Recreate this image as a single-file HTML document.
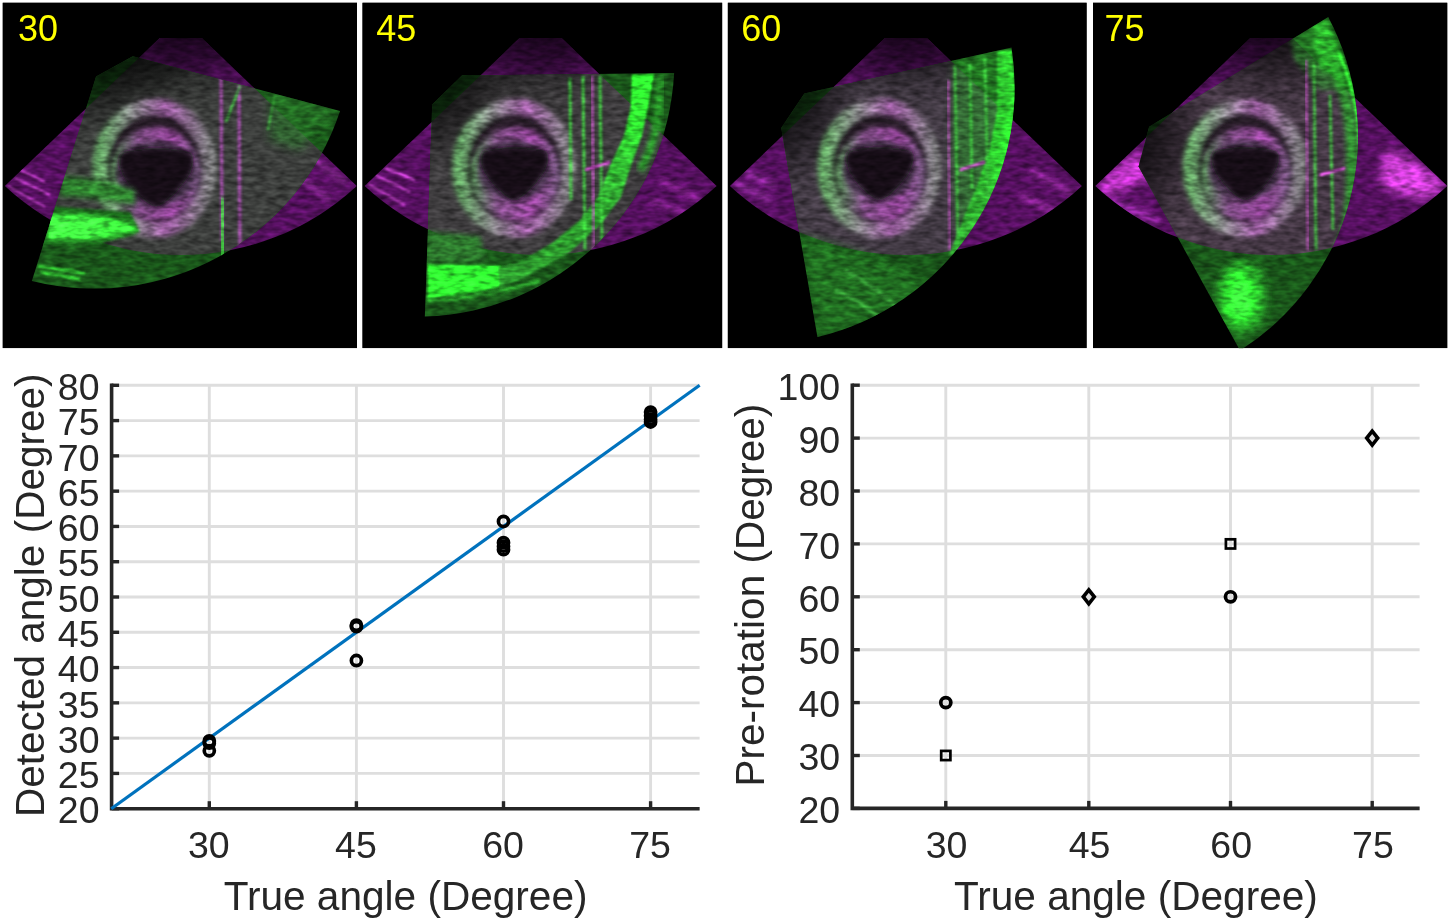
<!DOCTYPE html>
<html><head><meta charset="utf-8"><style>
html,body{margin:0;padding:0;background:#fff;}
body{width:1450px;height:921px;overflow:hidden;font-family:"Liberation Sans", sans-serif;}
svg{display:block;will-change:transform;}
</style></head><body>
<svg width="1450" height="921" viewBox="0 0 1450 921">
<defs><path id="fan" d="M -21,0 L 21,0 L 176,148 A 259 259 0 0 1 -176,148 Z"/><filter id="b1" x="-20%" y="-20%" width="140%" height="140%"><feGaussianBlur stdDeviation="1.2"/></filter><filter id="b2" x="-20%" y="-20%" width="140%" height="140%"><feGaussianBlur stdDeviation="2.5"/></filter><filter id="b4" x="-30%" y="-30%" width="160%" height="160%"><feGaussianBlur stdDeviation="5"/></filter><filter id="tex" filterUnits="userSpaceOnUse" x="0" y="0" width="1450" height="350" color-interpolation-filters="sRGB"><feTurbulence type="fractalNoise" baseFrequency="0.09 0.22" numOctaves="2" seed="7" result="n"/><feColorMatrix in="n" type="matrix" values="1 0 0 0 0  1 0 0 0 0  1 0 0 0 0  0 0 0 0 1" result="g"/><feComposite in="SourceGraphic" in2="g" operator="arithmetic" k1="1.1" k2="0.45" k3="0" k4="0"/></filter><linearGradient id="p2band" gradientUnits="userSpaceOnUse" x1="0" y1="74" x2="0" y2="290"><stop offset="0" stop-color="#30ff30"/><stop offset="0.2" stop-color="#30f030"/><stop offset="0.38" stop-color="#34c434"/><stop offset="0.65" stop-color="#2e9e2e"/><stop offset="1" stop-color="#2e9a2e"/></linearGradient><linearGradient id="p3band" gradientUnits="userSpaceOnUse" x1="0" y1="50" x2="0" y2="256"><stop offset="0" stop-color="#30e830"/><stop offset="0.45" stop-color="#30ff30"/><stop offset="0.7" stop-color="#34c034"/><stop offset="1" stop-color="#2e962e"/></linearGradient><radialGradient id="apex" gradientUnits="userSpaceOnUse" cx="0" cy="-42" r="259"><stop offset="0.15" stop-color="#000" stop-opacity="0.72"/><stop offset="0.25" stop-color="#000" stop-opacity="0.5"/><stop offset="0.35" stop-color="#000" stop-opacity="0.18"/><stop offset="0.43" stop-color="#000" stop-opacity="0"/></radialGradient><linearGradient id="ringg" x1="0" y1="0" x2="1" y2="0"><stop offset="0" stop-color="#60a060"/><stop offset="0.3" stop-color="#8a8a8c"/><stop offset="0.6" stop-color="#9c5ca2"/><stop offset="1" stop-color="#7a7a7c"/></linearGradient><linearGradient id="innerg" x1="0" y1="0" x2="1" y2="0"><stop offset="0" stop-color="#4f8a4f"/><stop offset="0.3" stop-color="#7a4a80"/><stop offset="0.7" stop-color="#94449a"/><stop offset="1" stop-color="#70587a"/></linearGradient><clipPath id="pc0"><rect x="2.5" y="2.5" width="354.5" height="345.7"/></clipPath><clipPath id="mc0"><use href="#fan" transform="translate(180.8,38)"/></clipPath><clipPath id="gc0"><use href="#fan" transform="translate(114.5,66.4) rotate(-28.87) scale(1.0)"/></clipPath><clipPath id="pc1"><rect x="362.3" y="2.5" width="360.1" height="345.7"/></clipPath><clipPath id="mc1"><use href="#fan" transform="translate(540.6,38)"/></clipPath><clipPath id="gc1"><use href="#fan" transform="translate(447.1,90.0) rotate(-44.33) scale(0.99)"/></clipPath><clipPath id="pc2"><rect x="727.6" y="2.5" width="359.2" height="345.7"/></clipPath><clipPath id="mc2"><use href="#fan" transform="translate(905.9,38)"/></clipPath><clipPath id="gc2"><use href="#fan" transform="translate(792.8,110.7) rotate(-56.15) scale(0.99)"/></clipPath><clipPath id="pc3"><rect x="1093.0" y="2.5" width="354.5" height="345.7"/></clipPath><clipPath id="mc3"><use href="#fan" transform="translate(1271.3,38)"/></clipPath><clipPath id="gc3"><use href="#fan" transform="translate(1143.9,146.6) rotate(-75.18) scale(0.98)"/></clipPath></defs>
<g clip-path="url(#pc0)"><g filter="url(#tex)"><rect x="2.5" y="2.5" width="354.5" height="345.7" fill="#000"/><use href="#fan" transform="translate(180.8,38)" fill="#54105e"/><g clip-path="url(#mc0)">
<path d="M 8,186 L 45,207 M 15,178 L 50,195 M 20,170 L 45,182" stroke="#c040c8" stroke-width="2" filter="url(#b1)"/>
<path d="M 300,150 L 345,182 M 290,170 L 330,200" stroke="#8a2a94" stroke-width="5" filter="url(#b2)"/>
</g><use href="#fan" transform="translate(114.5,66.4) rotate(-28.87) scale(1.0)" fill="#1a561a"/><g clip-path="url(#mc0)"><use href="#fan" transform="translate(114.5,66.4) rotate(-28.87) scale(1.0)" fill="#3c3e3c"/></g><use href="#fan" transform="translate(180.8,38)" fill="url(#apex)"/><use href="#fan" transform="translate(114.5,66.4) rotate(-28.87) scale(1.0)" fill="url(#apex)"/><g clip-path="url(#gc0)"><g clip-path="url(#mc0)"><ellipse cx="154.5" cy="168" rx="55" ry="62" fill="#261e28" stroke="url(#ringg)" stroke-width="14" filter="url(#b2)"/><ellipse cx="155.5" cy="174" rx="45" ry="47" fill="url(#innerg)" filter="url(#b2)"/><ellipse cx="156.0" cy="173.5" rx="39.6" ry="33.0" fill="#4a3650" filter="url(#b2)"/><path d="M 121.9,152.4 Q 156.0,143.6 191.2,152.4 Q 196.7,160.1 189.0,175.5 Q 171.4,201.9 156.0,207.4 Q 140.6,201.9 124.1,177.7 Q 115.3,161.2 121.9,152.4 Z" fill="#161016" filter="url(#b2)"/></g></g><g clip-path="url(#gc0)">
<path d="M 36,205 L 130,212 L 140,232 L 100,244 L 36,246 Z" fill="#1f6a1f" filter="url(#b1)"/>
<path d="M 48,214 Q 95,214 132,223 Q 140,231 130,234 Q 90,242 48,239 Z" fill="#3cf03c" filter="url(#b2)"/>
<path d="M 50,216 Q 80,216 105,220 L 100,236 Q 75,239 50,238 Z" fill="#44ff44" filter="url(#b1)"/>
<path d="M 60,176 Q 100,178 135,190 L 135,205 Q 100,198 60,196 Z" fill="#2f7f2f" filter="url(#b2)"/>
<path d="M 38,266 L 85,273 M 40,272 L 80,279" stroke="#35d035" stroke-width="3" filter="url(#b1)"/>
<path d="M 221,55 L 222,241 M 239,86 L 240,253" stroke="#a048a8" stroke-width="3.5" opacity="0.8" filter="url(#b1)"/>
<path d="M 222,198 L 223,258" stroke="#40e040" stroke-width="6" filter="url(#b2)"/>
<path d="M 226,122 L 240,86 M 268,130 L 275,95" stroke="#40c040" stroke-width="2.5" opacity="0.8" filter="url(#b1)"/>
<path d="M 270,90 L 300,80 L 335,112 L 300,150 L 270,140 Z" fill="#2c7a2c" opacity="0.6" filter="url(#b4)"/>
</g></g><text x="37.9" y="40.8" text-anchor="middle" font-family='"Liberation Sans", sans-serif' font-size="36" fill="#ffff00">30</text></g><g clip-path="url(#pc1)"><g filter="url(#tex)"><rect x="362.3" y="2.5" width="360.1" height="345.7" fill="#000"/><use href="#fan" transform="translate(540.6,38)" fill="#54105e"/><g clip-path="url(#mc1)">
<path d="M 368,184 L 405,205 M 375,175 L 410,192 M 385,168 L 415,180" stroke="#c040c8" stroke-width="2.5" filter="url(#b1)"/>
<path d="M 660,180 L 700,200 M 650,200 L 690,215" stroke="#9a2aa4" stroke-width="4" filter="url(#b2)"/>
</g><use href="#fan" transform="translate(447.1,90.0) rotate(-44.33) scale(0.99)" fill="#1a561a"/><g clip-path="url(#mc1)"><use href="#fan" transform="translate(447.1,90.0) rotate(-44.33) scale(0.99)" fill="#3e3c3e"/></g><use href="#fan" transform="translate(540.6,38)" fill="url(#apex)"/><use href="#fan" transform="translate(447.1,90.0) rotate(-44.33) scale(0.99)" fill="url(#apex)"/><g clip-path="url(#gc1)"><g clip-path="url(#mc1)"><ellipse cx="514.3" cy="168" rx="55" ry="62" fill="#261e28" stroke="url(#ringg)" stroke-width="14" filter="url(#b2)"/><ellipse cx="515.3" cy="174" rx="45" ry="47" fill="url(#innerg)" filter="url(#b2)"/><ellipse cx="514.3" cy="170" rx="36.0" ry="30.0" fill="#4a3650" filter="url(#b2)"/><path d="M 483.3,151.0 Q 514.3,143.0 546.3,151.0 Q 551.3,158.0 544.3,172.0 Q 528.3,196.0 514.3,201.0 Q 500.3,196.0 485.3,174.0 Q 477.3,159.0 483.3,151.0 Z" fill="#161016" filter="url(#b2)"/></g></g><g clip-path="url(#gc1)">
<path d="M 427,262 L 505,266 L 508,282 L 490,292 L 427,300 Z" fill="#1f6a1f" filter="url(#b1)"/>
<path d="M 428,265 L 500,266 Q 508,276 500,286 Q 470,294 428,298 Z" fill="#33ff33" filter="url(#b1)"/>
<path d="M 428,300 Q 480,300 540,280" stroke="#2a9a2a" stroke-width="4" fill="none" filter="url(#b1)"/>
<path d="M 428,232 L 480,236 L 485,262 L 428,262 Z" fill="#2f7a2f" filter="url(#b2)"/>
<path d="M 632,74 L 654,74 L 648,106 L 642,136 L 631,166 L 621,197 L 600,225 L 570,252 L 535,272 L 500,289 L 498,268 L 520,262 L 552,243 L 580,220 L 598,197 L 610,166 L 624,136 L 631,106 Z" fill="url(#p2band)" filter="url(#b1)"/>
<path d="M 660,78 Q 660,140 640,170" stroke="#2a9a2a" stroke-width="8" fill="none" filter="url(#b2)"/>
<path d="M 583,76 L 585,250 M 600,76 L 602,250 M 570,78 L 571,200" stroke="#3cc83c" stroke-width="3" opacity="0.85" filter="url(#b1)"/>
<path d="M 592,76 L 594,250" stroke="#c050c0" stroke-width="3" opacity="0.7" filter="url(#b1)"/>
<path d="M 585,170 L 610,162" stroke="#e050e0" stroke-width="2.5" filter="url(#b1)"/>
</g></g><text x="396.25" y="40.8" text-anchor="middle" font-family='"Liberation Sans", sans-serif' font-size="36" fill="#ffff00">45</text></g><g clip-path="url(#pc2)"><g filter="url(#tex)"><rect x="727.6" y="2.5" width="359.2" height="345.7" fill="#000"/><use href="#fan" transform="translate(905.9,38)" fill="#54105e"/><g clip-path="url(#mc2)">
<path d="M 735,183 L 770,200 M 745,172 L 775,186" stroke="#b038c0" stroke-width="4" filter="url(#b2)"/>
<path d="M 1030,170 L 1075,195 M 1020,195 L 1060,215" stroke="#9a2aa4" stroke-width="5" filter="url(#b2)"/>
</g><use href="#fan" transform="translate(792.8,110.7) rotate(-56.15) scale(0.99)" fill="#1a561a"/><g clip-path="url(#mc2)"><use href="#fan" transform="translate(792.8,110.7) rotate(-56.15) scale(0.99)" fill="#423a44"/></g><use href="#fan" transform="translate(905.9,38)" fill="url(#apex)"/><use href="#fan" transform="translate(792.8,110.7) rotate(-56.15) scale(0.99)" fill="url(#apex)"/><g clip-path="url(#gc2)"><g clip-path="url(#mc2)"><ellipse cx="879.6" cy="168" rx="55" ry="62" fill="#261e28" stroke="url(#ringg)" stroke-width="14" filter="url(#b2)"/><ellipse cx="880.6" cy="174" rx="45" ry="47" fill="url(#innerg)" filter="url(#b2)"/><ellipse cx="879.6" cy="170" rx="36.0" ry="30.0" fill="#4a3650" filter="url(#b2)"/><path d="M 848.6,151.0 Q 879.6,143.0 911.6,151.0 Q 916.6,158.0 909.6,172.0 Q 893.6,196.0 879.6,201.0 Q 865.6,196.0 850.6,174.0 Q 842.6,159.0 848.6,151.0 Z" fill="#161016" filter="url(#b2)"/></g></g><g clip-path="url(#gc2)">
<path d="M 997,52 L 1012,50 L 1016,100 L 1013,136 L 1004,170 L 999,183 L 985,219 L 968,255 L 949,255 L 963,219 L 978,183 L 990,147 L 997,112 Z" fill="url(#p3band)" filter="url(#b1)"/>
<path d="M 955,60 L 1008,50 L 1012,100 L 1000,160 L 985,200 L 960,230 L 952,150 Z" fill="#2c962c" opacity="0.55" filter="url(#b4)"/>
<path d="M 970,62 L 972,190 M 955,65 L 958,250 M 985,58 L 988,200" stroke="#3cc03c" stroke-width="3" opacity="0.8" filter="url(#b1)"/>
<path d="M 948,80 L 950,250" stroke="#c050c0" stroke-width="3" opacity="0.6" filter="url(#b1)"/>
<path d="M 800,235 Q 870,250 930,285 L 880,320 L 820,335 Z" fill="#2a8a2a" opacity="0.45" filter="url(#b4)"/>
<path d="M 845,270 Q 880,290 900,310 M 835,290 Q 860,300 880,318" stroke="#3aa03a" stroke-width="4" fill="none" opacity="0.8" filter="url(#b1)"/>
<path d="M 960,170 L 985,162" stroke="#e050e0" stroke-width="2.5" filter="url(#b1)"/>
</g></g><text x="761.25" y="40.8" text-anchor="middle" font-family='"Liberation Sans", sans-serif' font-size="36" fill="#ffff00">60</text></g><g clip-path="url(#pc3)"><g filter="url(#tex)"><rect x="1093.0" y="2.5" width="354.5" height="345.7" fill="#000"/><use href="#fan" transform="translate(1271.3,38)" fill="#54105e"/><g clip-path="url(#mc3)">
<path d="M 1385,150 Q 1420,160 1446,186 L 1425,200 Q 1400,195 1380,185 Z" fill="#d040d8" filter="url(#b4)"/>
<path d="M 1098,186 Q 1115,165 1140,150 L 1150,178 Q 1125,190 1105,196 Z" fill="#c838d0" filter="url(#b4)"/>
<path d="M 1110,200 L 1150,215 M 1120,210 L 1160,222" stroke="#a02ab0" stroke-width="5" filter="url(#b2)"/>
</g><use href="#fan" transform="translate(1143.9,146.6) rotate(-75.18) scale(0.98)" fill="#1a561a"/><g clip-path="url(#mc3)"><use href="#fan" transform="translate(1143.9,146.6) rotate(-75.18) scale(0.98)" fill="#453845"/></g><use href="#fan" transform="translate(1271.3,38)" fill="url(#apex)"/><use href="#fan" transform="translate(1143.9,146.6) rotate(-75.18) scale(0.98)" fill="url(#apex)"/><g clip-path="url(#gc3)"><g clip-path="url(#mc3)"><ellipse cx="1245.0" cy="168" rx="55" ry="62" fill="#261e28" stroke="url(#ringg)" stroke-width="14" filter="url(#b2)"/><ellipse cx="1246.0" cy="174" rx="45" ry="47" fill="url(#innerg)" filter="url(#b2)"/><ellipse cx="1245.0" cy="170" rx="36.0" ry="30.0" fill="#4a3650" filter="url(#b2)"/><path d="M 1214.0,151.0 Q 1245.0,143.0 1277.0,151.0 Q 1282.0,158.0 1275.0,172.0 Q 1259.0,196.0 1245.0,201.0 Q 1231.0,196.0 1216.0,174.0 Q 1208.0,159.0 1214.0,151.0 Z" fill="#161016" filter="url(#b2)"/></g></g><g clip-path="url(#gc3)">
<path d="M 1313,27 L 1326,21 L 1336,45 L 1336,72 L 1322,72 L 1315,50 Z" fill="#38f838" filter="url(#b2)"/>
<path d="M 1290,35 L 1326,21 L 1340,55 L 1345,90 L 1320,90 L 1295,60 Z" fill="#2a8a2a" opacity="0.6" filter="url(#b2)"/>
<path d="M 1322,40 Q 1343,75 1350,120 Q 1354,160 1351,200 Q 1348,230 1340,250" stroke="#2aa82a" stroke-width="12" fill="none" opacity="0.75" filter="url(#b2)"/>
<path d="M 1338,50 Q 1353,85 1358,120 Q 1361,150 1359,180" stroke="#36e836" stroke-width="4" fill="none" filter="url(#b1)"/>
<ellipse cx="1242" cy="297" rx="24" ry="36" fill="#2cb02c" filter="url(#b4)"/>
<ellipse cx="1240" cy="297" rx="15" ry="26" fill="#30ff30" filter="url(#b4)"/>
<ellipse cx="1240" cy="300" rx="10" ry="18" fill="#40ff40" filter="url(#b2)"/>
<path d="M 1314,60 L 1316,250 M 1330,95 L 1333,230" stroke="#3cc03c" stroke-width="3" opacity="0.8" filter="url(#b1)"/>
<path d="M 1306,60 L 1308,250" stroke="#c050c0" stroke-width="3" opacity="0.6" filter="url(#b1)"/>
<path d="M 1320,175 L 1345,168" stroke="#e050e0" stroke-width="2.5" filter="url(#b1)"/>
</g></g><text x="1124.45" y="40.8" text-anchor="middle" font-family='"Liberation Sans", sans-serif' font-size="36" fill="#ffff00">75</text></g>
<line x1="111.6" x2="699.6" y1="808.70" y2="808.70" stroke="#dedede" stroke-width="2.9"/><line x1="111.6" x2="699.6" y1="773.42" y2="773.42" stroke="#dedede" stroke-width="2.9"/><line x1="111.6" x2="699.6" y1="738.13" y2="738.13" stroke="#dedede" stroke-width="2.9"/><line x1="111.6" x2="699.6" y1="702.85" y2="702.85" stroke="#dedede" stroke-width="2.9"/><line x1="111.6" x2="699.6" y1="667.57" y2="667.57" stroke="#dedede" stroke-width="2.9"/><line x1="111.6" x2="699.6" y1="632.28" y2="632.28" stroke="#dedede" stroke-width="2.9"/><line x1="111.6" x2="699.6" y1="597.00" y2="597.00" stroke="#dedede" stroke-width="2.9"/><line x1="111.6" x2="699.6" y1="561.72" y2="561.72" stroke="#dedede" stroke-width="2.9"/><line x1="111.6" x2="699.6" y1="526.43" y2="526.43" stroke="#dedede" stroke-width="2.9"/><line x1="111.6" x2="699.6" y1="491.15" y2="491.15" stroke="#dedede" stroke-width="2.9"/><line x1="111.6" x2="699.6" y1="455.87" y2="455.87" stroke="#dedede" stroke-width="2.9"/><line x1="111.6" x2="699.6" y1="420.58" y2="420.58" stroke="#dedede" stroke-width="2.9"/><line x1="111.6" x2="699.6" y1="385.30" y2="385.30" stroke="#dedede" stroke-width="2.9"/><line x1="209.30" x2="209.30" y1="808.7" y2="385.3" stroke="#dedede" stroke-width="2.9"/><line x1="356.40" x2="356.40" y1="808.7" y2="385.3" stroke="#dedede" stroke-width="2.9"/><line x1="503.50" x2="503.50" y1="808.7" y2="385.3" stroke="#dedede" stroke-width="2.9"/><line x1="650.60" x2="650.60" y1="808.7" y2="385.3" stroke="#dedede" stroke-width="2.9"/><path d="M 111.6,383.6 L 111.6,808.7 L 699.6,808.7" fill="none" stroke="#262626" stroke-width="3.6" stroke-linejoin="miter" stroke-linecap="butt"/><line x1="111.6" x2="119.1" y1="808.70" y2="808.70" stroke="#262626" stroke-width="3.4"/><text x="99.5" y="823.40" text-anchor="end" font-family='"Liberation Sans", sans-serif' font-size="37.5" fill="#262626">20</text><line x1="111.6" x2="119.1" y1="773.42" y2="773.42" stroke="#262626" stroke-width="3.4"/><text x="99.5" y="788.12" text-anchor="end" font-family='"Liberation Sans", sans-serif' font-size="37.5" fill="#262626">25</text><line x1="111.6" x2="119.1" y1="738.13" y2="738.13" stroke="#262626" stroke-width="3.4"/><text x="99.5" y="752.83" text-anchor="end" font-family='"Liberation Sans", sans-serif' font-size="37.5" fill="#262626">30</text><line x1="111.6" x2="119.1" y1="702.85" y2="702.85" stroke="#262626" stroke-width="3.4"/><text x="99.5" y="717.55" text-anchor="end" font-family='"Liberation Sans", sans-serif' font-size="37.5" fill="#262626">35</text><line x1="111.6" x2="119.1" y1="667.57" y2="667.57" stroke="#262626" stroke-width="3.4"/><text x="99.5" y="682.27" text-anchor="end" font-family='"Liberation Sans", sans-serif' font-size="37.5" fill="#262626">40</text><line x1="111.6" x2="119.1" y1="632.28" y2="632.28" stroke="#262626" stroke-width="3.4"/><text x="99.5" y="646.98" text-anchor="end" font-family='"Liberation Sans", sans-serif' font-size="37.5" fill="#262626">45</text><line x1="111.6" x2="119.1" y1="597.00" y2="597.00" stroke="#262626" stroke-width="3.4"/><text x="99.5" y="611.70" text-anchor="end" font-family='"Liberation Sans", sans-serif' font-size="37.5" fill="#262626">50</text><line x1="111.6" x2="119.1" y1="561.72" y2="561.72" stroke="#262626" stroke-width="3.4"/><text x="99.5" y="576.42" text-anchor="end" font-family='"Liberation Sans", sans-serif' font-size="37.5" fill="#262626">55</text><line x1="111.6" x2="119.1" y1="526.43" y2="526.43" stroke="#262626" stroke-width="3.4"/><text x="99.5" y="541.13" text-anchor="end" font-family='"Liberation Sans", sans-serif' font-size="37.5" fill="#262626">60</text><line x1="111.6" x2="119.1" y1="491.15" y2="491.15" stroke="#262626" stroke-width="3.4"/><text x="99.5" y="505.85" text-anchor="end" font-family='"Liberation Sans", sans-serif' font-size="37.5" fill="#262626">65</text><line x1="111.6" x2="119.1" y1="455.87" y2="455.87" stroke="#262626" stroke-width="3.4"/><text x="99.5" y="470.57" text-anchor="end" font-family='"Liberation Sans", sans-serif' font-size="37.5" fill="#262626">70</text><line x1="111.6" x2="119.1" y1="420.58" y2="420.58" stroke="#262626" stroke-width="3.4"/><text x="99.5" y="435.28" text-anchor="end" font-family='"Liberation Sans", sans-serif' font-size="37.5" fill="#262626">75</text><line x1="111.6" x2="119.1" y1="385.30" y2="385.30" stroke="#262626" stroke-width="3.4"/><text x="99.5" y="400.00" text-anchor="end" font-family='"Liberation Sans", sans-serif' font-size="37.5" fill="#262626">80</text><line x1="209.30" x2="209.30" y1="808.7" y2="801.2" stroke="#262626" stroke-width="3.4"/><text x="208.80" y="857.8" text-anchor="middle" font-family='"Liberation Sans", sans-serif' font-size="37.5" fill="#262626">30</text><line x1="356.40" x2="356.40" y1="808.7" y2="801.2" stroke="#262626" stroke-width="3.4"/><text x="355.90" y="857.8" text-anchor="middle" font-family='"Liberation Sans", sans-serif' font-size="37.5" fill="#262626">45</text><line x1="503.50" x2="503.50" y1="808.7" y2="801.2" stroke="#262626" stroke-width="3.4"/><text x="503.00" y="857.8" text-anchor="middle" font-family='"Liberation Sans", sans-serif' font-size="37.5" fill="#262626">60</text><line x1="650.60" x2="650.60" y1="808.7" y2="801.2" stroke="#262626" stroke-width="3.4"/><text x="650.10" y="857.8" text-anchor="middle" font-family='"Liberation Sans", sans-serif' font-size="37.5" fill="#262626">75</text><text x="405.6" y="909.8" text-anchor="middle" font-family='"Liberation Sans", sans-serif' font-size="40.6" fill="#262626">True angle (Degree)</text><text transform="translate(43.7,595.3) rotate(-90)" text-anchor="middle" font-family='"Liberation Sans", sans-serif' font-size="40.5" fill="#262626">Detected angle (Degree)</text><line x1="111.23333333333335" y1="808.7" x2="699.6333333333333" y2="385.3" stroke="#0072bd" stroke-width="3.2"/><circle cx="209.30" cy="740.96" r="5.05" fill="none" stroke="#000" stroke-width="3.7"/><circle cx="209.30" cy="743.07" r="5.05" fill="none" stroke="#000" stroke-width="3.7"/><circle cx="209.30" cy="750.84" r="5.05" fill="none" stroke="#000" stroke-width="3.7"/><circle cx="356.40" cy="625.23" r="5.05" fill="none" stroke="#000" stroke-width="3.7"/><circle cx="356.40" cy="626.64" r="5.05" fill="none" stroke="#000" stroke-width="3.7"/><circle cx="356.40" cy="660.51" r="5.05" fill="none" stroke="#000" stroke-width="3.7"/><circle cx="503.50" cy="521.49" r="5.05" fill="none" stroke="#000" stroke-width="3.7"/><circle cx="503.50" cy="542.66" r="5.05" fill="none" stroke="#000" stroke-width="3.7"/><circle cx="503.50" cy="546.19" r="5.05" fill="none" stroke="#000" stroke-width="3.7"/><circle cx="503.50" cy="549.72" r="5.05" fill="none" stroke="#000" stroke-width="3.7"/><circle cx="650.60" cy="412.12" r="5.05" fill="none" stroke="#000" stroke-width="3.7"/><circle cx="650.60" cy="415.64" r="5.05" fill="none" stroke="#000" stroke-width="3.7"/><circle cx="650.60" cy="419.17" r="5.05" fill="none" stroke="#000" stroke-width="3.7"/><circle cx="650.60" cy="421.99" r="5.05" fill="none" stroke="#000" stroke-width="3.7"/>
<line x1="852.3" x2="1419.6" y1="808.40" y2="808.40" stroke="#dedede" stroke-width="2.9"/><line x1="852.3" x2="1419.6" y1="755.50" y2="755.50" stroke="#dedede" stroke-width="2.9"/><line x1="852.3" x2="1419.6" y1="702.60" y2="702.60" stroke="#dedede" stroke-width="2.9"/><line x1="852.3" x2="1419.6" y1="649.70" y2="649.70" stroke="#dedede" stroke-width="2.9"/><line x1="852.3" x2="1419.6" y1="596.80" y2="596.80" stroke="#dedede" stroke-width="2.9"/><line x1="852.3" x2="1419.6" y1="543.90" y2="543.90" stroke="#dedede" stroke-width="2.9"/><line x1="852.3" x2="1419.6" y1="491.00" y2="491.00" stroke="#dedede" stroke-width="2.9"/><line x1="852.3" x2="1419.6" y1="438.10" y2="438.10" stroke="#dedede" stroke-width="2.9"/><line x1="852.3" x2="1419.6" y1="385.20" y2="385.20" stroke="#dedede" stroke-width="2.9"/><line x1="945.80" x2="945.80" y1="808.4" y2="385.2" stroke="#dedede" stroke-width="2.9"/><line x1="1088.80" x2="1088.80" y1="808.4" y2="385.2" stroke="#dedede" stroke-width="2.9"/><line x1="1230.50" x2="1230.50" y1="808.4" y2="385.2" stroke="#dedede" stroke-width="2.9"/><line x1="1372.20" x2="1372.20" y1="808.4" y2="385.2" stroke="#dedede" stroke-width="2.9"/><path d="M 852.3,383.5 L 852.3,808.4 L 1419.6,808.4" fill="none" stroke="#262626" stroke-width="3.6" stroke-linejoin="miter" stroke-linecap="butt"/><line x1="852.3" x2="859.8" y1="808.40" y2="808.40" stroke="#262626" stroke-width="3.4"/><text x="840.1999999999999" y="823.10" text-anchor="end" font-family='"Liberation Sans", sans-serif' font-size="37.5" fill="#262626">20</text><line x1="852.3" x2="859.8" y1="755.50" y2="755.50" stroke="#262626" stroke-width="3.4"/><text x="840.1999999999999" y="770.20" text-anchor="end" font-family='"Liberation Sans", sans-serif' font-size="37.5" fill="#262626">30</text><line x1="852.3" x2="859.8" y1="702.60" y2="702.60" stroke="#262626" stroke-width="3.4"/><text x="840.1999999999999" y="717.30" text-anchor="end" font-family='"Liberation Sans", sans-serif' font-size="37.5" fill="#262626">40</text><line x1="852.3" x2="859.8" y1="649.70" y2="649.70" stroke="#262626" stroke-width="3.4"/><text x="840.1999999999999" y="664.40" text-anchor="end" font-family='"Liberation Sans", sans-serif' font-size="37.5" fill="#262626">50</text><line x1="852.3" x2="859.8" y1="596.80" y2="596.80" stroke="#262626" stroke-width="3.4"/><text x="840.1999999999999" y="611.50" text-anchor="end" font-family='"Liberation Sans", sans-serif' font-size="37.5" fill="#262626">60</text><line x1="852.3" x2="859.8" y1="543.90" y2="543.90" stroke="#262626" stroke-width="3.4"/><text x="840.1999999999999" y="558.60" text-anchor="end" font-family='"Liberation Sans", sans-serif' font-size="37.5" fill="#262626">70</text><line x1="852.3" x2="859.8" y1="491.00" y2="491.00" stroke="#262626" stroke-width="3.4"/><text x="840.1999999999999" y="505.70" text-anchor="end" font-family='"Liberation Sans", sans-serif' font-size="37.5" fill="#262626">80</text><line x1="852.3" x2="859.8" y1="438.10" y2="438.10" stroke="#262626" stroke-width="3.4"/><text x="840.1999999999999" y="452.80" text-anchor="end" font-family='"Liberation Sans", sans-serif' font-size="37.5" fill="#262626">90</text><line x1="852.3" x2="859.8" y1="385.20" y2="385.20" stroke="#262626" stroke-width="3.4"/><text x="840.1999999999999" y="399.90" text-anchor="end" font-family='"Liberation Sans", sans-serif' font-size="37.5" fill="#262626">100</text><line x1="945.80" x2="945.80" y1="808.4" y2="800.9" stroke="#262626" stroke-width="3.4"/><text x="946.50" y="857.8" text-anchor="middle" font-family='"Liberation Sans", sans-serif' font-size="37.5" fill="#262626">30</text><line x1="1088.80" x2="1088.80" y1="808.4" y2="800.9" stroke="#262626" stroke-width="3.4"/><text x="1089.50" y="857.8" text-anchor="middle" font-family='"Liberation Sans", sans-serif' font-size="37.5" fill="#262626">45</text><line x1="1230.50" x2="1230.50" y1="808.4" y2="800.9" stroke="#262626" stroke-width="3.4"/><text x="1231.20" y="857.8" text-anchor="middle" font-family='"Liberation Sans", sans-serif' font-size="37.5" fill="#262626">60</text><line x1="1372.20" x2="1372.20" y1="808.4" y2="800.9" stroke="#262626" stroke-width="3.4"/><text x="1372.90" y="857.8" text-anchor="middle" font-family='"Liberation Sans", sans-serif' font-size="37.5" fill="#262626">75</text><text x="1135.9" y="909.8" text-anchor="middle" font-family='"Liberation Sans", sans-serif' font-size="40.6" fill="#262626">True angle (Degree)</text><text transform="translate(764,595.1) rotate(-90)" text-anchor="middle" font-family='"Liberation Sans", sans-serif' font-size="40.5" fill="#262626">Pre-rotation (Degree)</text><circle cx="945.80" cy="702.60" r="5.05" fill="none" stroke="#000" stroke-width="3.7"/><rect x="941.20" y="750.90" width="9.2" height="9.2" fill="none" stroke="#000" stroke-width="2.7"/><path d="M 1088.80,589.80 L 1094.30,596.80 L 1088.80,603.80 L 1083.30,596.80 Z" fill="none" stroke="#000" stroke-width="3.6" stroke-linejoin="miter"/><rect x="1225.90" y="539.30" width="9.2" height="9.2" fill="none" stroke="#000" stroke-width="2.7"/><circle cx="1230.50" cy="596.80" r="5.05" fill="none" stroke="#000" stroke-width="3.7"/><path d="M 1372.20,431.10 L 1377.70,438.10 L 1372.20,445.10 L 1366.70,438.10 Z" fill="none" stroke="#000" stroke-width="3.6" stroke-linejoin="miter"/>
</svg>
</body></html>
